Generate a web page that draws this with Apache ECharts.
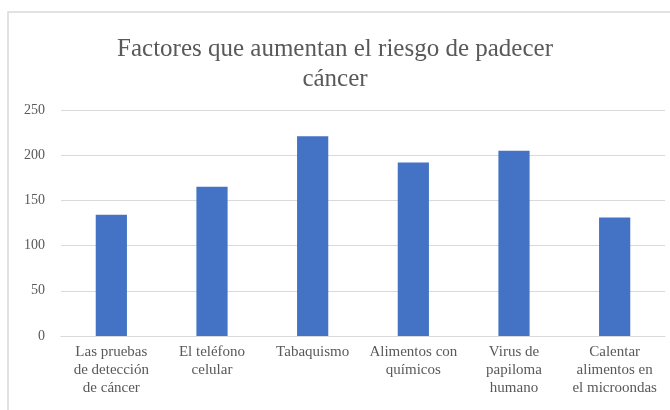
<!DOCTYPE html>
<html>
<head>
<meta charset="utf-8">
<script src="https://cdn.jsdelivr.net/npm/echarts@6/dist/echarts.min.js"></script>
<style>
  html, body { margin: 0; padding: 0; background: #fff; }
  #chart { width: 670px; height: 410px; }
</style>
</head>
<body>
<div id="chart"></div>
<script>
// Factors people believe increase cancer risk (number of responses)
const categories = [
  'Las pruebas\nde detección\nde cáncer',
  'El teléfono\ncelular',
  'Tabaquismo',
  'Alimentos con\nquímicos',
  'Virus de\npapiloma\nhumano',
  'Calentar\nalimentos en\nel microondas'
];
const responses = [134, 165, 221, 192, 205, 131];
const yTicks = { min: 0, max: 250, interval: 50 };
const titleText = 'Factores que aumentan el riesgo de padecer\ncáncer';

const serif = '"Liberation Serif", "DejaVu Serif", serif';
const chart = echarts.init(document.getElementById('chart'), null, { renderer: 'canvas' });

chart.setOption({
  backgroundColor: '#ffffff',
  animation: false,
  graphic: [{
    type: 'rect',
    shape: { x: 8, y: 12, width: 700, height: 450 },
    style: { fill: 'none', stroke: '#d9d9d9', lineWidth: 1.5 },
    silent: true
  }],
  title: {
    text: titleText,
    left: 'center',
    top: 29,
    textStyle: {
      fontFamily: serif,
      fontSize: 25,
      fontWeight: 'normal',
      color: '#595959',
      lineHeight: 30
    }
  },
  grid: { left: 61, right: 5, top: 110, bottom: 74 },
  xAxis: {
    type: 'category',
    data: categories,
    axisLine: { lineStyle: { color: '#d9d9d9', width: 1 } },
    axisTick: { show: false },
    axisLabel: {
      interval: 0,
      margin: 7,
      fontFamily: serif,
      fontSize: 15,
      lineHeight: 18,
      color: '#595959',
      align: 'center'
    }
  },
  yAxis: {
    type: 'value',
    min: yTicks.min,
    max: yTicks.max,
    interval: yTicks.interval,
    axisLine: { show: false },
    axisTick: { show: false },
    splitLine: { lineStyle: { color: '#d9d9d9', width: 1 } },
    axisLabel: {
      margin: 16,
      fontFamily: serif,
      fontSize: 14,
      color: '#595959'
    }
  },
  series: [{
    type: 'bar',
    data: responses,
    barWidth: '31%',
    itemStyle: { color: '#4472C4' }
  }]
});
</script>
</body>
</html>
